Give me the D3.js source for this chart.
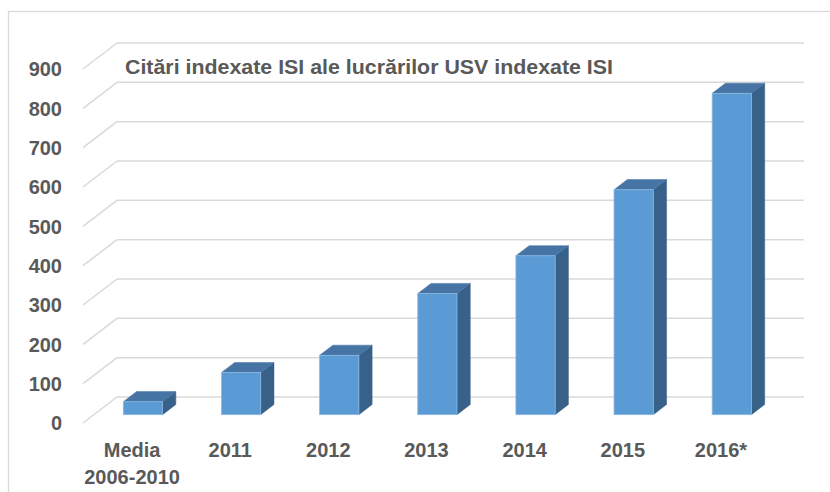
<!DOCTYPE html>
<html>
<head>
<meta charset="utf-8">
<script src="https://cdn.jsdelivr.net/npm/d3@7"></script>
<style>
body{margin:0;background:#fff}
svg{display:block}
text{font-family:"Liberation Sans",Arial,sans-serif;font-weight:bold;fill:#595959}
</style>
</head>
<body>
<div id="chart"></div>
<script>
const width = 830
const height = 492

const categories = ["Media\n2006-2010","2011","2012","2013","2014","2015","2016*"]
const values = [33,107,151,308,404,572,817]
const yTicks = [0,100,200,300,400,500,600,700,800,900]
const title = "Citări indexate ISI ale lucrărilor USV indexate ISI"

// depth of the floor (back wall -> front edge)
const depthX = -34
const depthY = 26
const barFront = 0.68
const barBack = 0.29

const svg = d3.select("#chart")
.append("svg")
.attr("width",width)
.attr("height",height)

// outer chart border (right / bottom are cropped off)
svg.append("rect")
.attr("x",8.5)
.attr("y",11.5)
.attr("width",900)
.attr("height",600)
.attr("fill","none")
.attr("stroke","#d9d9d9")
.attr("stroke-width",1.3)

const x = d3.scaleBand()
.domain(categories)
.range([117,804])

const y = d3.scaleLinear()
.domain([0,900])
.range([397,43])

// gridlines: back wall + diagonal on the side
const grid = svg.append("g")
.attr("stroke","#d9d9d9")
.attr("stroke-width",1.5)
.attr("fill","none")

grid.selectAll("line.back")
.data(yTicks)
.enter()
.append("line")
.attr("class","back")
.attr("x1",x.range()[0])
.attr("x2",x.range()[1])
.attr("y1",d=>y(d))
.attr("y2",d=>y(d))

grid.selectAll("line.side")
.data(yTicks)
.enter()
.append("line")
.attr("class","side")
.attr("x1",x.range()[0])
.attr("y1",d=>y(d))
.attr("x2",x.range()[0]+depthX)
.attr("y2",d=>y(d)+depthY)

// y labels
svg.selectAll("text.ylab")
.data(yTicks)
.enter()
.append("text")
.attr("class","ylab")
.attr("x",62)
.attr("y",d=>y(d)+depthY)
.attr("dy","0.36em")
.attr("text-anchor","end")
.style("font-size","20px")
.text(d=>d)

// bars
const bw = x.bandwidth()*0.4
const sx = (barBack-barFront)*depthX
const sy = (barBack-barFront)*depthY

const bars = svg.selectAll("g.bar")
.data(categories.map((c,i)=>({c:c,v:values[i]})))
.enter()
.append("g")
.attr("class","bar")
.attr("transform",d=>`translate(${x(d.c)+x.bandwidth()/2+barFront*depthX-bw/2},${barFront*depthY})`)

const pts = a=>a.map(p=>p.join(",")).join(" ")

// side face
bars.append("polygon")
.attr("fill","#386189")
.attr("stroke","#386189")
.attr("stroke-width",0.5)
.attr("points",d=>pts([[bw,y(d.v)],[bw+sx,y(d.v)+sy],[bw+sx,y(0)+sy],[bw,y(0)]]))

// top face
bars.append("polygon")
.attr("fill","#4675a5")
.attr("stroke","#4675a5")
.attr("stroke-width",0.5)
.attr("points",d=>pts([[0,y(d.v)],[sx,y(d.v)+sy],[bw+sx,y(d.v)+sy],[bw,y(d.v)]]))

// front face
bars.append("rect")
.attr("x",0)
.attr("y",d=>y(d.v))
.attr("width",bw)
.attr("height",d=>y(0)-y(d.v))
.attr("fill","#5b9bd5")
.attr("stroke","#8cb8e2")
.attr("stroke-width",0.8)

// x labels at the front edge of the floor
const xl = svg.selectAll("text.xlab")
.data(categories)
.enter()
.append("text")
.attr("class","xlab")
.attr("x",d=>x(d)+x.bandwidth()/2+depthX)
.attr("y",457)
.attr("text-anchor","middle")
.style("font-size","20px")

xl.selectAll("tspan")
.data(d=>d.split("\n"))
.enter()
.append("tspan")
.attr("x",function(){return this.parentNode.getAttribute("x")})
.attr("dy",(d,i)=>i==0?0:27)
.text(d=>d)

// title
svg.append("text")
.attr("x",125)
.attr("y",74)
.attr("textLength",488)
.attr("lengthAdjust","spacingAndGlyphs")
.style("font-size","20px")
.text(title)
</script>
</body>
</html>
